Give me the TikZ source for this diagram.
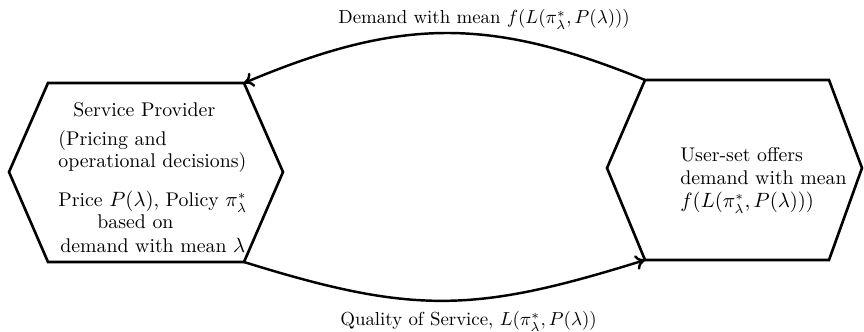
\documentclass[tikz,border=0pt]{standalone}
\usetikzlibrary{arrows.meta}
\begin{document}
\begin{tikzpicture}[x=0.53pt,y=-0.53pt,
  hexa/.style={line width=1.4pt, line join=miter},
  conn/.style={line width=1.3pt,-{To[length=5pt,width=8pt]}},
  txt/.style={anchor=base west, inner sep=0pt, font=\normalsize},
  btxt/.style={anchor=base west, inner sep=0pt, font=\fontsize{10.5}{12}\selectfont}]
\useasboundingbox (0,0) rectangle (864,332);
% left hexagon
\coordinate (l1) at (48,83);
\coordinate (l2) at (244,83);
\coordinate (l3) at (283,172);
\coordinate (l4) at (244,262);
\coordinate (l5) at (48,262);
\coordinate (l6) at (9,172);
\draw[hexa] (l1)--(l2)--(l3)--(l4)--(l5)--(l6)--cycle;
% right hexagon
\coordinate (r1) at (645,80);
\coordinate (r2) at (829,80);
\coordinate (r3) at (862,168);
\coordinate (r4) at (829,260);
\coordinate (r5) at (645,260);
\coordinate (r6) at (607,168);
\draw[hexa] (r1)--(r2)--(r3)--(r4)--(r5)--(r6)--cycle;
% left texts
\node[btxt] (sp) at (73,117) {Service Provider};
\node[btxt] (pa) at (58,146) {(Pricing and};
\node[btxt] (od) at (58,168) {operational decisions)};
\node[btxt] (pr) at (58,207) {Price $P(\lambda)$, Policy $\pi^*_\lambda$};
\node[btxt] (bo) at (97,229) {based on};
\node[btxt] (dm) at (60,253) {demand with mean $\lambda$};
% right texts
\node[btxt] (u1) at (680,162) {User-set offers};
\node[btxt] (u2) at (680,185) {demand with mean};
\node[btxt] (u3) at (680,208) {$f(L(\pi^*_\lambda,P(\lambda)))$};
% connectors
\draw[conn] (r1) .. controls +(-155,-63) and +(157,-66) .. (l2);
\draw[conn] (l4) .. controls +(170,53) and +(-170,53) .. (r5);
\node[txt] (tl) at (338,24) {Demand with mean $f(L(\pi^*_\lambda,P(\lambda)))$};
\node[txt] (bl) at (340,326) {Quality of Service, $L(\pi^*_\lambda,P(\lambda))$};
\end{tikzpicture}
\end{document}
